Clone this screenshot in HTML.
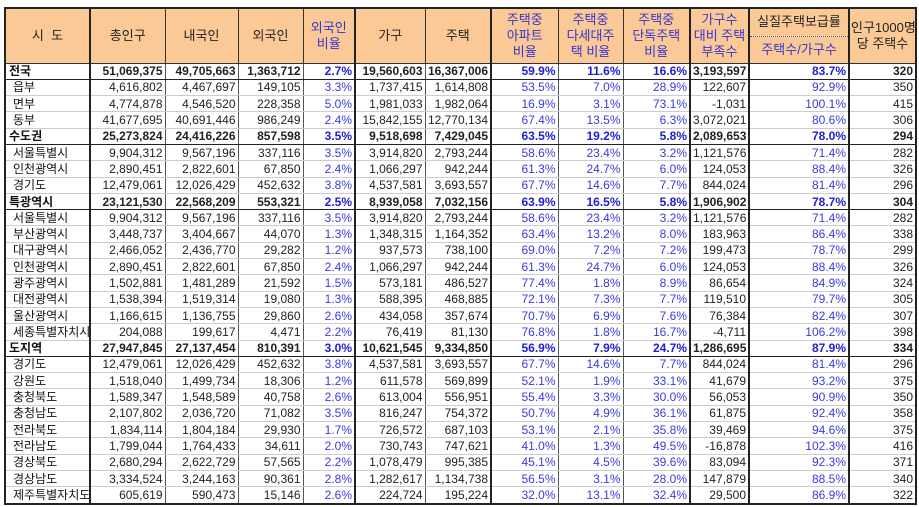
<!DOCTYPE html>
<html><head><meta charset="utf-8"><style>
body{margin:0;background:#fff;width:919px;height:507px;overflow:hidden}
table{position:absolute;left:4px;top:7px;width:911px;border-collapse:collapse;table-layout:fixed;font-family:"Liberation Sans","Noto Sans CJK KR",sans-serif;font-size:12px;color:#222}
td,th{padding:0 2px;white-space:nowrap;overflow:hidden;border-left:1px solid #555;border-right:1px solid #555;border-top:1px solid #ccc;border-bottom:1px solid #ccc;text-align:right;height:15.3px;line-height:14px}
th{background:#fbc996;font-weight:normal;text-align:center;border:1px solid #333;font-size:13px;line-height:16px;height:auto;padding:0 1px}
th.b{color:#3535d0}
td:first-child{text-align:left;padding-left:3px;border-left:2px solid #222;color:#111}
td:last-child,th:last-child{border-right:2px solid #222}
.t2{border-left:2px solid #222}
.p{color:#3a3ae0}
tr.s td{font-weight:bold;border-top:1.5px solid #222;border-bottom:1.5px solid #222}
tr.s td.p{color:#2020d0}
td.i{padding-left:7px}
tr:last-child td{border-bottom:2px solid #222}
thead tr:first-child th{border-top:2px solid #222}
</style></head><body>
<table>
<colgroup><col style="width:85px"><col style="width:75px"><col style="width:73px"><col style="width:65px"><col style="width:52px"><col style="width:70px"><col style="width:66px"><col style="width:67px"><col style="width:65px"><col style="width:67px"><col style="width:59px"><col style="width:100px"><col style="width:67px"></colgroup>
<thead>
<tr style="height:28px"><th rowspan="2" style="border-left:2px solid #222">시&nbsp;&nbsp;도</th><th rowspan="2" class="t2">총인구</th><th rowspan="2">내국인</th><th rowspan="2">외국인</th><th rowspan="2" class="b">외국인<br>비율</th><th rowspan="2" class="t2">가구</th><th rowspan="2">주택</th><th rowspan="2" class="b t2">주택중<br>아파트<br>비율</th><th rowspan="2" class="b">주택중<br>다세대주<br>택 비율</th><th rowspan="2" class="b">주택중<br>단독주택<br>비율</th><th rowspan="2" class="b t2">가구수<br>대비 주택<br>부족수</th><th style="border-bottom:1px dotted #555" class="t2">실질주택보급률</th><th rowspan="2" class="t2">인구1000명<br>당 주택수</th></tr>
<tr style="height:27px"><th class="b t2" style="border-top:none">주택수/가구수</th></tr>
</thead>
<tbody>
<tr class="s"><td>전국</td><td class="t2">51,069,375</td><td>49,705,663</td><td>1,363,712</td><td class="p">2.7%</td><td class="t2">19,560,603</td><td>16,367,006</td><td class="p t2">59.9%</td><td class="p">11.6%</td><td class="p">16.6%</td><td class="t2">3,193,597</td><td class="p t2">83.7%</td><td class="t2">320</td></tr>
<tr><td class="i">읍부</td><td class="t2">4,616,802</td><td>4,467,697</td><td>149,105</td><td class="p">3.3%</td><td class="t2">1,737,415</td><td>1,614,808</td><td class="p t2">53.5%</td><td class="p">7.0%</td><td class="p">28.9%</td><td class="t2">122,607</td><td class="p t2">92.9%</td><td class="t2">350</td></tr>
<tr><td class="i">면부</td><td class="t2">4,774,878</td><td>4,546,520</td><td>228,358</td><td class="p">5.0%</td><td class="t2">1,981,033</td><td>1,982,064</td><td class="p t2">16.9%</td><td class="p">3.1%</td><td class="p">73.1%</td><td class="t2">-1,031</td><td class="p t2">100.1%</td><td class="t2">415</td></tr>
<tr><td class="i">동부</td><td class="t2">41,677,695</td><td>40,691,446</td><td>986,249</td><td class="p">2.4%</td><td class="t2">15,842,155</td><td>12,770,134</td><td class="p t2">67.4%</td><td class="p">13.5%</td><td class="p">6.3%</td><td class="t2">3,072,021</td><td class="p t2">80.6%</td><td class="t2">306</td></tr>
<tr class="s"><td>수도권</td><td class="t2">25,273,824</td><td>24,416,226</td><td>857,598</td><td class="p">3.5%</td><td class="t2">9,518,698</td><td>7,429,045</td><td class="p t2">63.5%</td><td class="p">19.2%</td><td class="p">5.8%</td><td class="t2">2,089,653</td><td class="p t2">78.0%</td><td class="t2">294</td></tr>
<tr><td class="i">서울특별시</td><td class="t2">9,904,312</td><td>9,567,196</td><td>337,116</td><td class="p">3.5%</td><td class="t2">3,914,820</td><td>2,793,244</td><td class="p t2">58.6%</td><td class="p">23.4%</td><td class="p">3.2%</td><td class="t2">1,121,576</td><td class="p t2">71.4%</td><td class="t2">282</td></tr>
<tr><td class="i">인천광역시</td><td class="t2">2,890,451</td><td>2,822,601</td><td>67,850</td><td class="p">2.4%</td><td class="t2">1,066,297</td><td>942,244</td><td class="p t2">61.3%</td><td class="p">24.7%</td><td class="p">6.0%</td><td class="t2">124,053</td><td class="p t2">88.4%</td><td class="t2">326</td></tr>
<tr><td class="i">경기도</td><td class="t2">12,479,061</td><td>12,026,429</td><td>452,632</td><td class="p">3.8%</td><td class="t2">4,537,581</td><td>3,693,557</td><td class="p t2">67.7%</td><td class="p">14.6%</td><td class="p">7.7%</td><td class="t2">844,024</td><td class="p t2">81.4%</td><td class="t2">296</td></tr>
<tr class="s"><td>특광역시</td><td class="t2">23,121,530</td><td>22,568,209</td><td>553,321</td><td class="p">2.5%</td><td class="t2">8,939,058</td><td>7,032,156</td><td class="p t2">63.9%</td><td class="p">16.5%</td><td class="p">5.8%</td><td class="t2">1,906,902</td><td class="p t2">78.7%</td><td class="t2">304</td></tr>
<tr><td class="i">서울특별시</td><td class="t2">9,904,312</td><td>9,567,196</td><td>337,116</td><td class="p">3.5%</td><td class="t2">3,914,820</td><td>2,793,244</td><td class="p t2">58.6%</td><td class="p">23.4%</td><td class="p">3.2%</td><td class="t2">1,121,576</td><td class="p t2">71.4%</td><td class="t2">282</td></tr>
<tr><td class="i">부산광역시</td><td class="t2">3,448,737</td><td>3,404,667</td><td>44,070</td><td class="p">1.3%</td><td class="t2">1,348,315</td><td>1,164,352</td><td class="p t2">63.4%</td><td class="p">13.2%</td><td class="p">8.0%</td><td class="t2">183,963</td><td class="p t2">86.4%</td><td class="t2">338</td></tr>
<tr><td class="i">대구광역시</td><td class="t2">2,466,052</td><td>2,436,770</td><td>29,282</td><td class="p">1.2%</td><td class="t2">937,573</td><td>738,100</td><td class="p t2">69.0%</td><td class="p">7.2%</td><td class="p">7.2%</td><td class="t2">199,473</td><td class="p t2">78.7%</td><td class="t2">299</td></tr>
<tr><td class="i">인천광역시</td><td class="t2">2,890,451</td><td>2,822,601</td><td>67,850</td><td class="p">2.4%</td><td class="t2">1,066,297</td><td>942,244</td><td class="p t2">61.3%</td><td class="p">24.7%</td><td class="p">6.0%</td><td class="t2">124,053</td><td class="p t2">88.4%</td><td class="t2">326</td></tr>
<tr><td class="i">광주광역시</td><td class="t2">1,502,881</td><td>1,481,289</td><td>21,592</td><td class="p">1.5%</td><td class="t2">573,181</td><td>486,527</td><td class="p t2">77.4%</td><td class="p">1.8%</td><td class="p">8.9%</td><td class="t2">86,654</td><td class="p t2">84.9%</td><td class="t2">324</td></tr>
<tr><td class="i">대전광역시</td><td class="t2">1,538,394</td><td>1,519,314</td><td>19,080</td><td class="p">1.3%</td><td class="t2">588,395</td><td>468,885</td><td class="p t2">72.1%</td><td class="p">7.3%</td><td class="p">7.7%</td><td class="t2">119,510</td><td class="p t2">79.7%</td><td class="t2">305</td></tr>
<tr><td class="i">울산광역시</td><td class="t2">1,166,615</td><td>1,136,755</td><td>29,860</td><td class="p">2.6%</td><td class="t2">434,058</td><td>357,674</td><td class="p t2">70.7%</td><td class="p">6.9%</td><td class="p">7.6%</td><td class="t2">76,384</td><td class="p t2">82.4%</td><td class="t2">307</td></tr>
<tr><td class="i">세종특별자치시</td><td class="t2">204,088</td><td>199,617</td><td>4,471</td><td class="p">2.2%</td><td class="t2">76,419</td><td>81,130</td><td class="p t2">76.8%</td><td class="p">1.8%</td><td class="p">16.7%</td><td class="t2">-4,711</td><td class="p t2">106.2%</td><td class="t2">398</td></tr>
<tr class="s"><td>도지역</td><td class="t2">27,947,845</td><td>27,137,454</td><td>810,391</td><td class="p">3.0%</td><td class="t2">10,621,545</td><td>9,334,850</td><td class="p t2">56.9%</td><td class="p">7.9%</td><td class="p">24.7%</td><td class="t2">1,286,695</td><td class="p t2">87.9%</td><td class="t2">334</td></tr>
<tr><td class="i">경기도</td><td class="t2">12,479,061</td><td>12,026,429</td><td>452,632</td><td class="p">3.8%</td><td class="t2">4,537,581</td><td>3,693,557</td><td class="p t2">67.7%</td><td class="p">14.6%</td><td class="p">7.7%</td><td class="t2">844,024</td><td class="p t2">81.4%</td><td class="t2">296</td></tr>
<tr><td class="i">강원도</td><td class="t2">1,518,040</td><td>1,499,734</td><td>18,306</td><td class="p">1.2%</td><td class="t2">611,578</td><td>569,899</td><td class="p t2">52.1%</td><td class="p">1.9%</td><td class="p">33.1%</td><td class="t2">41,679</td><td class="p t2">93.2%</td><td class="t2">375</td></tr>
<tr><td class="i">충청북도</td><td class="t2">1,589,347</td><td>1,548,589</td><td>40,758</td><td class="p">2.6%</td><td class="t2">613,004</td><td>556,951</td><td class="p t2">55.4%</td><td class="p">3.3%</td><td class="p">30.0%</td><td class="t2">56,053</td><td class="p t2">90.9%</td><td class="t2">350</td></tr>
<tr><td class="i">충청남도</td><td class="t2">2,107,802</td><td>2,036,720</td><td>71,082</td><td class="p">3.5%</td><td class="t2">816,247</td><td>754,372</td><td class="p t2">50.7%</td><td class="p">4.9%</td><td class="p">36.1%</td><td class="t2">61,875</td><td class="p t2">92.4%</td><td class="t2">358</td></tr>
<tr><td class="i">전라북도</td><td class="t2">1,834,114</td><td>1,804,184</td><td>29,930</td><td class="p">1.7%</td><td class="t2">726,572</td><td>687,103</td><td class="p t2">53.1%</td><td class="p">2.1%</td><td class="p">35.8%</td><td class="t2">39,469</td><td class="p t2">94.6%</td><td class="t2">375</td></tr>
<tr><td class="i">전라남도</td><td class="t2">1,799,044</td><td>1,764,433</td><td>34,611</td><td class="p">2.0%</td><td class="t2">730,743</td><td>747,621</td><td class="p t2">41.0%</td><td class="p">1.3%</td><td class="p">49.5%</td><td class="t2">-16,878</td><td class="p t2">102.3%</td><td class="t2">416</td></tr>
<tr><td class="i">경상북도</td><td class="t2">2,680,294</td><td>2,622,729</td><td>57,565</td><td class="p">2.2%</td><td class="t2">1,078,479</td><td>995,385</td><td class="p t2">45.1%</td><td class="p">4.5%</td><td class="p">39.6%</td><td class="t2">83,094</td><td class="p t2">92.3%</td><td class="t2">371</td></tr>
<tr><td class="i">경상남도</td><td class="t2">3,334,524</td><td>3,244,163</td><td>90,361</td><td class="p">2.8%</td><td class="t2">1,282,617</td><td>1,134,738</td><td class="p t2">56.5%</td><td class="p">3.1%</td><td class="p">28.0%</td><td class="t2">147,879</td><td class="p t2">88.5%</td><td class="t2">340</td></tr>
<tr><td class="i">제주특별자치도</td><td class="t2">605,619</td><td>590,473</td><td>15,146</td><td class="p">2.6%</td><td class="t2">224,724</td><td>195,224</td><td class="p t2">32.0%</td><td class="p">13.1%</td><td class="p">32.4%</td><td class="t2">29,500</td><td class="p t2">86.9%</td><td class="t2">322</td></tr>
</tbody></table>
</body></html>
